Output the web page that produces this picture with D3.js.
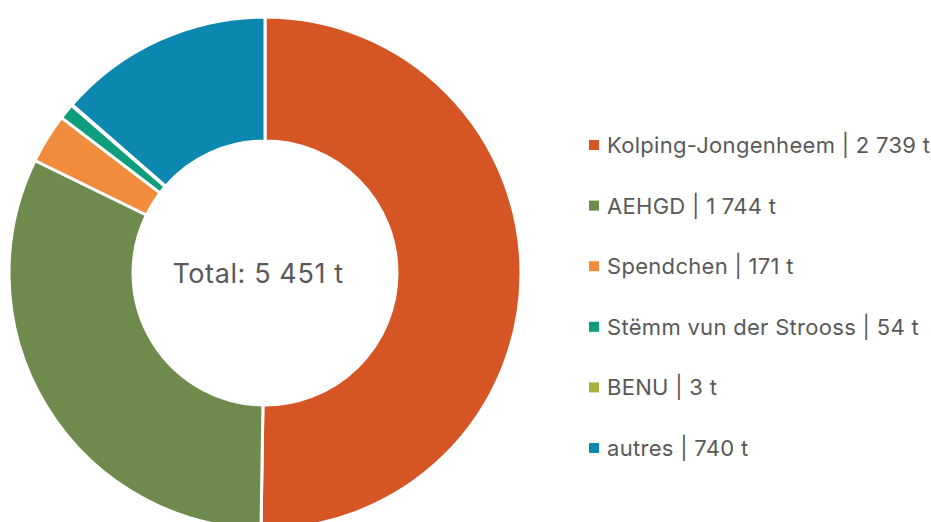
<!DOCTYPE html>
<html>
<head>
<meta charset="utf-8">
<script src="https://cdn.jsdelivr.net/npm/d3@7"></script>
<style>
  body { margin: 0; background: #fff; }
  svg { display: block; font-family: Inter, "Open Sans", sans-serif; }
</style>
</head>
<body>
<div id="chart"></div>
<script>
// Slice names, values (t) and colours, in drawing order
const names = ["Kolping-Jongenheem", "AEHGD", "Spendchen", "Stëmm vun der Strooss", "BENU", "autres"];
const values = [2739, 1744, 171, 54, 3, 740];
const colors = ["#D55524", "#6E8B4D", "#F08C3C", "#0E9E7E", "#A8B040", "#0C87B0"];
const totalLabel = "Total: 5 451 t";

const fmt = v => d3.format(",")(v).replace(/,/g, " ");

const width = 931, height = 522;
const cx = 265, cy = 273, outerR = 256, innerR = 132;

const svg = d3.select("#chart").append("svg")
    .attr("width", width)
    .attr("height", height);

const data = names.map((n, i) => ({ name: n, value: values[i], color: colors[i] }));

const pie = d3.pie().value(d => d.value).sort(null);
const arc = d3.arc().innerRadius(innerR).outerRadius(outerR);

const g = svg.append("g").attr("transform", `translate(${cx},${cy})`);

g.selectAll("path")
    .data(pie(data))
    .enter()
    .append("path")
    .attr("d", arc)
    .attr("fill", d => d.data.color)
    .attr("stroke", "#fff")
    .attr("stroke-width", 3);

g.append("text")
    .attr("text-anchor", "middle")
    .attr("x", -7)
    .attr("y", 10)
    .attr("font-size", 27)
    .attr("letter-spacing", 0.6)
    .attr("fill", "#595959")
    .text(totalLabel);

// Legend
const legendY = d3.scalePoint().domain(names).range([146, 449]);

const legend = svg.append("g").selectAll("g")
    .data(data)
    .enter()
    .append("g")
    .attr("transform", d => `translate(589,${legendY(d.name)})`);

legend.append("rect")
    .attr("x", 0)
    .attr("y", -6)
    .attr("width", 10)
    .attr("height", 10)
    .attr("fill", d => d.color);

legend.append("text")
    .attr("x", 18)
    .attr("y", 7)
    .attr("font-size", 22)
    .attr("letter-spacing", 0.3)
    .attr("fill", "#595959")
    .text(d => `${d.name} | ${fmt(d.value)} t`);
</script>
</body>
</html>
